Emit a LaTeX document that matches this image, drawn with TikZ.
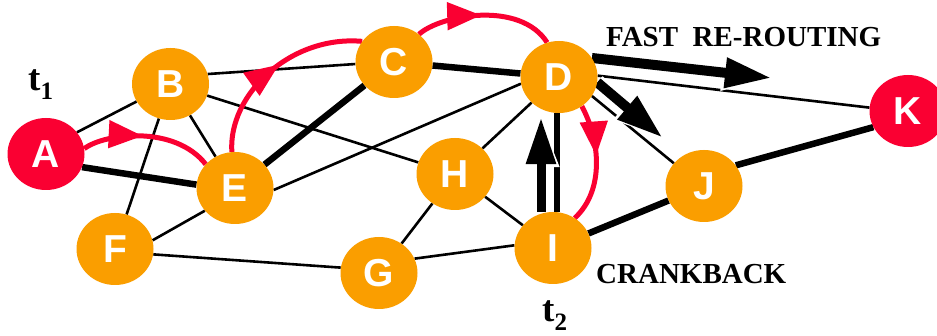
\documentclass[tikz,border=0pt]{standalone}
\usepackage{fontspec}
\setmainfont{Liberation Serif}
\newfontfamily\routerfont{Liberation Sans}
\usetikzlibrary{shapes.geometric,arrows.meta,decorations.markings,backgrounds}
\definecolor{nodeorange}{RGB}{250,158,0}
\definecolor{nodered}{RGB}{250,0,50}
\begin{document}
\begin{tikzpicture}[x=1pt,y=-1pt,
  router/.style={ellipse, fill=nodeorange, minimum width=77pt, minimum height=72pt,
    inner sep=0pt, text=white, font=\routerfont\bfseries\fontsize{39}{39}\selectfont},
  endpoint/.style={router, fill=nodered},
  link/.style={line width=2.6pt},
  trunk/.style={line width=6.5pt},
  signal/.style={draw=nodered, line width=5pt,
    decoration={markings, mark=at position #1 with {\arrow{Triangle[length=34pt,width=27pt]}}},
    postaction=decorate},
  bigarrow/.style={line width=#1, -{Triangle[length=47pt,width=28pt]},
    preaction={draw=white, line width=#1+6pt, -{Triangle[length=50pt,width=33pt]}}},
  caption/.style={inner sep=0pt, anchor=base west, font=\bfseries\fontsize{29}{29}\selectfont},
  tlabel/.style={inner sep=0pt, anchor=base west, font=\bfseries\fontsize{37}{37}\selectfont}
]
\useasboundingbox (0,0) rectangle (937,336);

% network nodes
\node[endpoint] (A) at (46,154) {A};
\node[router]   (B) at (170.5,84) {B};
\node[router]   (C) at (394,62) {C};
\node[router]   (D) at (559,77) {D};
\node[router]   (E) at (235,188) {E};
\node[router]   (F) at (115,249) {F};
\node[router]   (G) at (379,273) {G};
\node[router]   (H) at (455,174) {H};
\node[router]   (I) at (553,248) {I};
\node[router]   (J) at (704,186) {J};
\node[endpoint] (K) at (908,111) {K};

% free ends of the two re-routing arrows
\coordinate (fr) at (772,78);
\coordinate (dj) at (663,138);

% labels
\node[tlabel] (t1) at (28,91) {t\raisebox{-9pt}{\fontsize{25}{25}\selectfont 1}};
\node[tlabel] (t2) at (542,322) {t\raisebox{-9pt}{\fontsize{25}{25}\selectfont 2}};
\node[caption] (fast) at (606,47) {FAST\ \ RE-ROUTING};
\node[caption] (crank) at (596,284) {CRANKBACK};

\begin{scope}[on background layer]
  \fill[white] (0,0) rectangle (937,336);

  % thin links
  \draw[link] (A.35) -- (B);
  \draw[link] (B.15) -- (C.183);
  \draw[link] (B) -- (F);
  \draw[link] (B) -- (E);
  \draw[link] (B) -- (H);
  \draw[link] (F.13) -- (E.217);
  \draw[link] (E.-3) -- (D.190);
  \draw[link] (F.-8) -- (G.172);
  \draw[link] (G) -- (H);
  \draw[link] (G.22) -- (I.176);
  \draw[link] (H) -- (I);
  \draw[link] (H) -- (D);
  \draw[link] (D.-30) -- (J.143);
  \draw[link] (D.2) -- (K.175);

  % primary path
  \draw[trunk] (A.-20) -- (E.175);
  \draw[trunk] (E) -- (C);
  \draw[trunk] (C) -- (D);
  \draw[trunk] ([xshift=-2pt]D.south) -- ([xshift=4pt]I.north);
  \draw[trunk] (I) -- (J);
  \draw[trunk] (J.33) -- (K.205);

  % signalling along the path
  \draw[signal=0.46] (A.8) .. controls (105,133) and (175,125) .. (E.141);
  \draw[signal=0.54] (E.95) .. controls (228,95) and (290,35) .. (C.147);
  \draw[signal=0.47] (C.48) .. controls (440,15) and (520,0) .. (D.109);
  \draw[signal=0.43] (D.-52) .. controls (600,140) and (605,190) .. (I.54);

  % re-routing and crankback arrows
  \draw[bigarrow=10pt] (D.30) -- (fr);
  \draw[bigarrow=10pt] (D.-8) -- (dj);
  \draw[bigarrow=9pt] ([xshift=-12pt]I.north) -- ([xshift=-18pt,yshift=-4pt]D.south);
\end{scope}
\end{tikzpicture}
\end{document}
